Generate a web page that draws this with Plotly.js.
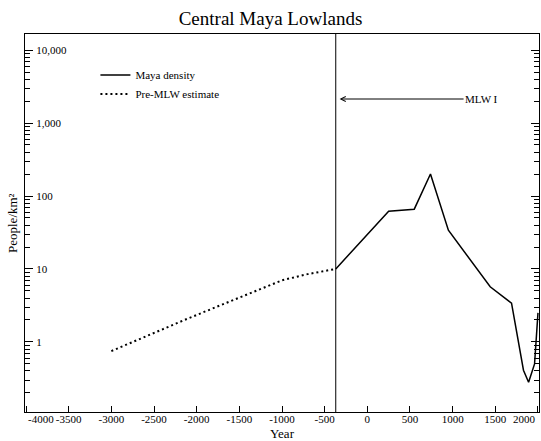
<!DOCTYPE html>
<html>
<head>
<meta charset="utf-8">
<script src="https://cdn.plot.ly/plotly-3.0.1.min.js"></script>
<style>html,body{margin:0;padding:0;background:#fff;}#chart{width:541px;height:441px;}</style>
</head>
<body>
<div id="chart"></div>
<script>
// Maya density (solid)
const mayaYears = [-370, 250, 550, 740, 950, 1440, 1690, 1830, 1890, 1960, 2000];
const mayaDensity = [10, 62, 66, 200, 34, 5.7, 3.4, 0.41, 0.28, 0.5, 2.5];
// Pre-MLW estimate (dotted)
const preYears = [-3000, -2100, -1000, -700, -370];
const preDensity = [0.75, 2.1, 7.0, 8.5, 10];
// Tick labels
const xTickVals = [-4000, -3500, -3000, -2500, -2000, -1500, -1000, -500, 0, 500, 1000, 1500, 2000];
const xTickText = ['-4000', '-3500', '-3000', '-2500', '-2000', '-1500', '-1000', '-500', '0', '500', '1000', '1500', '2000'];
// Marker line
const mlwYear = -370;
const mlwLabel = 'MLW I';

const serif = 'Liberation Serif, Times New Roman, serif';
const last = xTickText.length - 1;
// end labels are set flush against the frame (as annotations); the inner ones are axis labels
const xTickShown = xTickText.map((t, i) => (i === 0 || i === last) ? '' : t);

// minor log ticks (2..9 per decade)
const minorVals = [];
for (let d = -1; d <= 4; d++) for (let m = 2; m <= 9; m++) minorVals.push(m * Math.pow(10, d));

const traces = [
  {x: mayaYears, y: mayaDensity, type: 'scatter', mode: 'lines', name: 'Maya density',
   line: {color: '#000', width: 1.5}},
  {x: preYears, y: preDensity, type: 'scatter', mode: 'lines', name: 'Pre-MLW estimate',
   yaxis: 'y2', line: {color: '#000', width: 2, dash: '2px,3px'}}
];

const yCommon = {type: 'log', range: [-0.96, 4.22], showgrid: false, zeroline: false, automargin: false};

const layout = {
  width: 541, height: 441,
  margin: {l: 25, r: 2, t: 34, b: 29},
  paper_bgcolor: '#fff', plot_bgcolor: '#fff',
  font: {family: serif, color: '#000', size: 11},
  title: {text: 'Central Maya Lowlands', font: {family: serif, size: 19, color: '#000'},
          x: 0.5, xref: 'container', y: 0.959, yref: 'container', yanchor: 'middle'},
  showlegend: true,
  legend: {x: 0.137, y: 0.93, xanchor: 'left', yanchor: 'top', bgcolor: 'rgba(0,0,0,0)',
           font: {family: serif, size: 11, color: '#000'}},
  xaxis: {range: [-4012, 2012], tickvals: xTickVals, ticktext: xTickShown, ticks: 'inside', ticklen: 6,
          tickwidth: 1, tickcolor: '#000', showline: true, linecolor: '#000', linewidth: 1, mirror: true,
          showgrid: false, zeroline: false, automargin: false, ticklabelstandoff: -3,
          tickfont: {family: serif, size: 11, color: '#000'}},
  yaxis: Object.assign({}, yCommon, {
          dtick: 1, showticklabels: false,
          ticks: 'inside', ticklen: 8, tickwidth: 1, tickcolor: '#000',
          showline: true, linecolor: '#000', linewidth: 1, mirror: 'ticks',
          minor: {tickmode: 'array', tickvals: minorVals, ticks: 'inside', ticklen: 5,
                  tickwidth: 1, tickcolor: '#000', showgrid: false}}),
  yaxis2: Object.assign({}, yCommon, {
          overlaying: 'y', anchor: 'free', position: 0.02, side: 'right', dtick: 1, tickformat: ',d',
          ticks: '', showline: false,
          tickfont: {family: serif, size: 11, color: '#000'}}),
  shapes: [
    {type: 'line', xref: 'x', yref: 'paper', x0: mlwYear, x1: mlwYear, y0: 0, y1: 1,
     line: {color: '#000', width: 1}}
  ],
  annotations: [
    {text: xTickText[0], xref: 'x', yref: 'paper', x: xTickVals[0], y: 0, yshift: 1,
     xanchor: 'left', yanchor: 'top', showarrow: false,
     font: {family: serif, size: 11, color: '#000'}},
    {text: xTickText[last], xref: 'x', yref: 'paper', x: xTickVals[last], y: 0, yshift: 1,
     xanchor: 'right', yanchor: 'top', showarrow: false,
     font: {family: serif, size: 11, color: '#000'}},
    {text: 'People/km²', xref: 'paper', yref: 'paper', x: 0, y: 0.5, xshift: -13,
     xanchor: 'center', yanchor: 'middle', textangle: -90, showarrow: false,
     font: {family: serif, size: 13, color: '#000'}},
    {text: 'Year', xref: 'paper', yref: 'paper', x: 0.5, y: 0, yshift: -21,
     xanchor: 'center', yanchor: 'middle', showarrow: false,
     font: {family: serif, size: 13, color: '#000'}},
    {text: mlwLabel, xref: 'x', yref: 'y', x: mlwYear + 45, y: Math.log10(2134),
     showarrow: true, arrowhead: 5, arrowsize: 1, arrowwidth: 1, arrowcolor: '#000',
     ax: 142, ay: 0, font: {family: serif, size: 11, color: '#000'}}
  ]
};

Plotly.newPlot('chart', traces, layout, {displayModeBar: false, staticPlot: true});
</script>
</body>
</html>
